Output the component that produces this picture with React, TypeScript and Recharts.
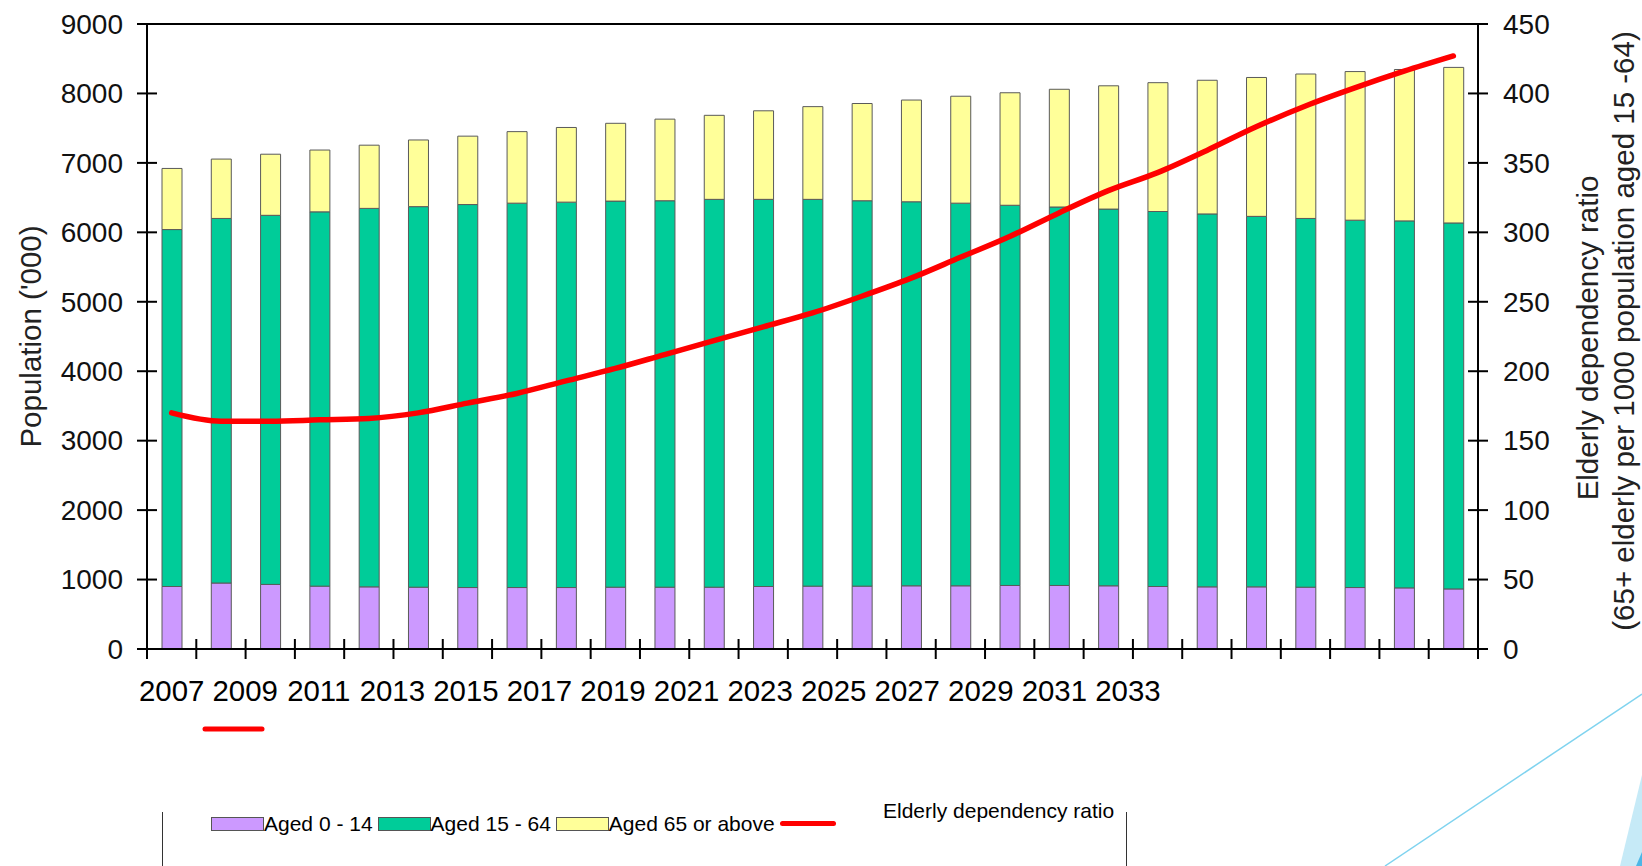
import React from "react";
import {
  ComposedChart,
  Bar,
  Line,
  XAxis,
  YAxis,
  ReferenceLine,
} from "recharts";

const years = [
  "2007", "2008", "2009", "2010", "2011", "2012", "2013", "2014", "2015",
  "2016", "2017", "2018", "2019", "2020", "2021", "2022", "2023", "2024",
  "2025", "2026", "2027", "2028", "2029", "2030", "2031", "2032", "2033",
];

// population ('000)
const aged0to14 = [
  900, 950, 930, 905, 895, 890, 885, 885, 885, 890, 890, 890, 900, 905, 905,
  910, 910, 915, 915, 910, 900, 895, 895, 890, 885, 880, 865,
];
const aged15to64 = [
  5140, 5250, 5315, 5390, 5450, 5480, 5515, 5535, 5550, 5560, 5565, 5585,
  5575, 5570, 5550, 5530, 5510, 5475, 5450, 5425, 5400, 5370, 5335, 5310,
  5290, 5285, 5270,
];
const aged65plus = [
  880, 855, 880, 890, 910, 960, 985, 1030, 1075, 1120, 1175, 1210, 1275, 1335,
  1400, 1465, 1540, 1620, 1695, 1775, 1855, 1925, 2000, 2080, 2140, 2180, 2240,
];
// 65+ per 1000 aged 15-64
const dependencyRatio = [
  170, 164, 164, 165, 166, 170, 177, 184, 193, 202, 212, 222, 232, 242, 254,
  267, 282, 297, 314, 330, 343, 359, 376, 391, 404, 416, 427,
];

const leftTicks = [0, 1000, 2000, 3000, 4000, 5000, 6000, 7000, 8000, 9000];
const rightTicks = [0, 50, 100, 150, 200, 250, 300, 350, 400, 450];

const barSeries = [
  { key: "young", name: "Aged 0 - 14", color: "#CC99FF" },
  { key: "working", name: "Aged 15 - 64", color: "#00CC99" },
  { key: "old", name: "Aged 65 or above", color: "#FFFF99" },
];
const lineSeries = { key: "ratio", name: "Elderly dependency ratio", color: "#FF0000" };

const data = years.map((year, i) => ({
  year,
  young: aged0to14[i],
  working: aged15to64[i],
  old: aged65plus[i],
  ratio: dependencyRatio[i],
}));

const W = 1642;
const H = 866;
const LEFT_W = 147;
const RIGHT_W = 164;
const TOP = 24;
const X_AXIS_H = 217;
const PLOT_W = W - LEFT_W - RIGHT_W;
const STEP = PLOT_W / years.length;
const FONT = "'Liberation Sans', Arial, sans-serif";
const TICK_FONT = 28;
const X_FONT = 29.4;
const LABEL_STEP = X_FONT * 2.502; // labels set like "2007 2009 ..."

const XTick = (props: any) => {
  const { x, y, payload } = props;
  const i = props.index ?? payload.index;
  const left = x - STEP / 2;
  const firstCenter = x - i * STEP;
  return (
    <g>
      <line x1={left} x2={left} y1={y - 10} y2={y + 10} stroke="#000" strokeWidth={2} />
      {i === years.length - 1 && (
        <line x1={x + STEP / 2} x2={x + STEP / 2} y1={y - 10} y2={y + 10} stroke="#000" strokeWidth={2} />
      )}
      {i % 2 === 0 && (
        <text
          x={firstCenter + (i / 2) * LABEL_STEP}
          y={y + 52}
          textAnchor="middle"
          fontSize={X_FONT}
          fontFamily={FONT}
          fill="#000"
        >
          {payload.value}
        </text>
      )}
    </g>
  );
};

const LeftTick = (props: any) => {
  const { x, y, payload } = props;
  return (
    <g>
      <line x1={x - 10} x2={x + 10} y1={y} y2={y} stroke="#000" strokeWidth={2} />
      <text x={x - 24} y={y} dy="0.35em" textAnchor="end" fontSize={TICK_FONT} fontFamily={FONT} fill="#111">
        {payload.value}
      </text>
    </g>
  );
};

const RightTick = (props: any) => {
  const { x, y, payload } = props;
  return (
    <g>
      <line x1={x - 10} x2={x + 10} y1={y} y2={y} stroke="#000" strokeWidth={2} />
      <text x={x + 25} y={y} dy="0.35em" textAnchor="start" fontSize={TICK_FONT} fontFamily={FONT} fill="#111">
        {payload.value}
      </text>
    </g>
  );
};

const leftTitle = (props: any) => {
  const vb = props.viewBox;
  const cx = vb.x + 31;
  const cy = vb.y + vb.height / 2;
  return (
    <text
      x={cx}
      y={cy}
      dy="0.35em"
      textAnchor="middle"
      transform={`rotate(-90, ${cx}, ${cy})`}
      fontSize={29.5}
      fontFamily={FONT}
      fill="#222"
    >
      Population ('000)
    </text>
  );
};

const rightTitle = (props: any) => {
  const vb = props.viewBox;
  const lines = [
    { text: "Elderly dependency ratio", dx: 110, cy: vb.y + 314 },
    { text: "(65+ elderly per 1000 population aged 15 -64)", dx: 146, cy: vb.y + 307 },
  ];
  return (
    <g>
      {lines.map((l) => {
        const cx = vb.x + l.dx;
        return (
          <text
            key={l.text}
            x={cx}
            y={l.cy}
            dy="0.35em"
            textAnchor="middle"
            transform={`rotate(-90, ${cx}, ${l.cy})`}
            fontSize={29.5}
            fontFamily={FONT}
            fill="#222"
          >
            {l.text}
          </text>
        );
      })}
    </g>
  );
};

function LegendRow() {
  return (
    <>
      <div
        style={{
          position: "absolute",
          left: 211,
          top: 813,
          height: 21,
          display: "flex",
          alignItems: "center",
          fontSize: 21,
          lineHeight: "21px",
          fontFamily: FONT,
          color: "#000",
          whiteSpace: "nowrap",
        }}
      >
        {barSeries.map((s) => (
          <div key={s.key} style={{ display: "flex", alignItems: "center", marginRight: 5 }}>
            <div
              style={{
                width: 53,
                height: 14,
                boxSizing: "border-box",
                border: "1px solid #555",
                background: s.color,
              }}
            />
            <span>{s.name}</span>
          </div>
        ))}
        <div style={{ width: 56, height: 5, borderRadius: 3, background: lineSeries.color }} />
      </div>
      <div
        style={{
          position: "absolute",
          left: 883,
          top: 800,
          fontSize: 21,
          lineHeight: "21px",
          fontFamily: FONT,
          color: "#000",
          whiteSpace: "nowrap",
        }}
      >
        {lineSeries.name}
      </div>
    </>
  );
}

export default function App() {
  return (
    <div
      style={{
        position: "absolute",
        left: 0,
        top: 0,
        width: W,
        height: H,
        background: "#fff",
        overflow: "hidden",
        fontFamily: FONT,
      }}
    >
      <ComposedChart
        width={W}
        height={H}
        data={data}
        margin={{ top: TOP, right: 0, bottom: 0, left: 0 }}
      >
        <XAxis
          dataKey="year"
          height={X_AXIS_H}
          interval={0}
          tickSize={0}
          tickMargin={0}
          tickLine={false}
          axisLine={{ stroke: "#000", strokeWidth: 2 }}
          tick={<XTick />}
        />
        <YAxis
          yAxisId="left"
          orientation="left"
          width={LEFT_W}
          domain={[0, 9000]}
          ticks={leftTicks}
          interval={0}
          tickSize={0}
          tickMargin={0}
          tickLine={false}
          axisLine={{ stroke: "#000", strokeWidth: 2 }}
          tick={<LeftTick />}
          label={leftTitle}
        />
        <YAxis
          yAxisId="right"
          orientation="right"
          width={RIGHT_W}
          domain={[0, 450]}
          ticks={rightTicks}
          interval={0}
          tickSize={0}
          tickMargin={0}
          tickLine={false}
          axisLine={{ stroke: "#000", strokeWidth: 2 }}
          tick={<RightTick />}
          label={rightTitle}
        />
        <ReferenceLine yAxisId="left" y={9000} stroke="#000" strokeWidth={2} />
        {barSeries.map((s) => (
          <Bar
            key={s.key}
            yAxisId="left"
            dataKey={s.key}
            name={s.name}
            stackId="pop"
            fill={s.color}
            stroke="#5a5a5a"
            strokeWidth={1}
            barSize={20}
            isAnimationActive={false}
          />
        ))}
        <Line
          yAxisId="right"
          dataKey={lineSeries.key}
          name={lineSeries.name}
          type="monotone"
          stroke={lineSeries.color}
          strokeWidth={5.5}
          strokeLinecap="round"
          dot={false}
          activeDot={false}
          isAnimationActive={false}
        />
      </ComposedChart>

      <svg
        width={W}
        height={H}
        style={{ position: "absolute", left: 0, top: 0, pointerEvents: "none" }}
      >
        <line x1={205} x2={262} y1={729} y2={729} stroke="#FF0000" strokeWidth={5} strokeLinecap="round" />
        <line x1={162.5} x2={162.5} y1={812} y2={866} stroke="#333" strokeWidth={1} />
        <line x1={1126.5} x2={1126.5} y1={812} y2={866} stroke="#333" strokeWidth={1} />
        <line x1={1385} y1={866} x2={1642} y2={694} stroke="#7FD3EF" strokeWidth={1.5} />
        <polygon points="1620,866 1642,775 1642,866" fill="#C6EAF7" />
        <polygon points="1636,866 1642,852 1642,866" fill="#4DB6E6" />
      </svg>

      <LegendRow />
    </div>
  );
}
